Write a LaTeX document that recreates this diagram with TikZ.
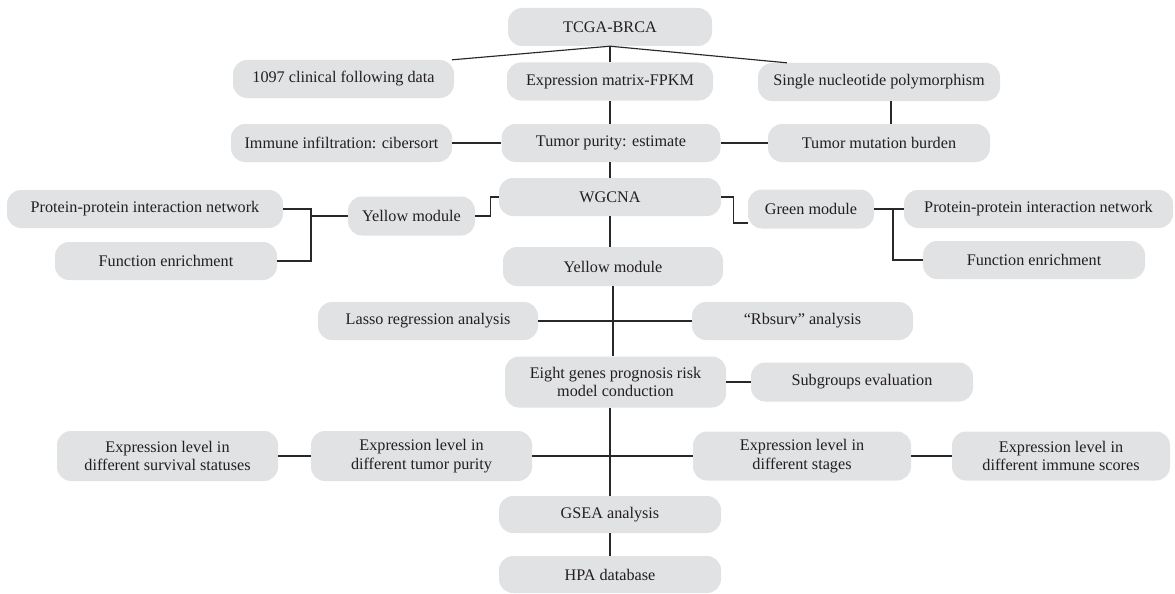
\documentclass[tikz,border=0pt]{standalone}
\usepackage{fontspec}
\setmainfont{Liberation Serif}
\usetikzlibrary{calc}
\definecolor{boxgray}{RGB}{225,226,228}
\definecolor{txt}{RGB}{35,31,32}
\definecolor{ln}{RGB}{40,40,40}
\begin{document}
\begin{tikzpicture}[x=1pt,y=-1pt,
  box/.style={fill=boxgray, rounded corners=14pt, minimum width=221pt, minimum height=38pt,
    inner sep=0pt, align=center, text=txt, font=\fontsize{16.2}{18.5}\selectfont},
  conn/.style={draw=ln, line width=1.15pt}]
\useasboundingbox (0,0) rectangle (1175,594);
% row 1
\node[box, minimum width=204pt] (tcga) at (610,27) {TCGA-BRCA};
% row 2
\node[box] (clin) at (343.5,79) {1097 clinical following data};
\node[box, minimum width=206pt] (expr) at (610,81.5) {Expression matrix-FPKM};
\node[box, minimum width=242pt] (snp) at (879,82) {Single nucleotide polymorphism};
% row 3
\node[box] (immune) at (341.5,143) {Immune infiltration: cibersort};
\node[box, minimum width=219pt] (purity) at (611,143) {Tumor purity: estimate};
\node[box, minimum width=222pt] (tmb) at (879,143) {Tumor mutation burden};
% WGCNA row
\node[box, minimum width=276pt] (ppiL) at (145,209) {Protein-protein interaction network};
\node[box, minimum width=222pt] (feL) at (166,261) {Function enrichment};
\node[box, minimum width=127pt, minimum height=39pt] (yellowS) at (411.5,216) {Yellow module};
\node[box, minimum width=222pt] (wgcna) at (610,197) {WGCNA};
\node[box, minimum width=126pt, minimum height=39pt] (green) at (811,209) {Green module};
\node[box, minimum width=269pt] (ppiR) at (1038.5,209) {Protein-protein interaction network};
\node[box, minimum width=222pt] (feR) at (1034,260) {Function enrichment};
% yellow module
\node[box, minimum width=220pt, minimum height=39pt] (yellowC) at (613,266.5) {Yellow module};
% lasso / rbsurv
\node[box, minimum width=220pt] (lasso) at (428,321) {Lasso regression analysis};
\node[box] (rbsurv) at (802.5,321) {“Rbsurv” analysis};
% eight genes
\node[box, minimum height=51pt] (eight) at (615.5,382) {Eight genes prognosis risk\\model conduction};
\node[box, minimum width=222pt, minimum height=39pt] (subg) at (862,382) {Subgroups evaluation};
% expression row
\node[box, minimum height=50pt] (surv) at (167.5,456) {Expression level in\\different survival statuses};
\node[box, minimum height=50pt] (purityE) at (421.5,456) {Expression level in\\different tumor purity};
\node[box, minimum width=218pt, minimum height=49pt] (stages) at (802,456) {Expression level in\\different stages};
\node[box, minimum width=218pt, minimum height=49pt] (immS) at (1061,456) {Expression level in\\different immune scores};
% bottom
\node[box, minimum width=222pt, minimum height=37pt] (gsea) at (610,514.5) {GSEA analysis};
\node[box, minimum width=222pt, minimum height=37pt] (hpa) at (610,574.5) {HPA database};
% connectors
\draw[conn] (tcga.south) -- ([xshift=-2pt]clin.north east);
\draw[conn] (tcga.south) -- (expr.north);
\draw[conn] (tcga.south) -- ([xshift=29pt]snp.north west);
\draw[conn] (expr.south) -- (expr.south |- purity.north);
\draw[conn] (immune.east) -- (purity.west);
\draw[conn] (purity.east) -- (tmb.west);
\draw[conn] ([xshift=12pt]snp.south) -- ([xshift=12pt]tmb.north);
\draw[conn] (purity.south -| wgcna.north) -- (wgcna.north);
\coordinate (jl) at (311,216);
\draw[conn] (ppiL.east) -| (jl) |- (feL.east);
\draw[conn] (jl) -- (yellowS.west);
\draw[conn] (yellowS.east) -- ++(15,0) |- (wgcna.west);
\draw[conn] (wgcna.east) -- ++(12,0) |- ([yshift=-14pt]green.west);
\draw[conn] (green.east) -- (green.east -| ppiR.west);
\coordinate (jr) at (893,209);
\draw[conn] (jr) |- (feR.west);
\draw[conn] (wgcna.south) -- (wgcna.south |- yellowC.north);
\draw[conn] (yellowC.south) -- (yellowC.south |- eight.north);
\draw[conn] (lasso.east) -- (rbsurv.west);
\draw[conn] (eight.east) -- (eight.east -| subg.west);
\draw[conn] (eight.south -| gsea.north) -- (gsea.north);
\draw[conn] (purityE.east) -- (stages.west);
\draw[conn] (surv.east) -- (purityE.west);
\draw[conn] (stages.east) -- (immS.west);
\draw[conn] (gsea.south) -- (hpa.north);
\end{tikzpicture}
\end{document}
